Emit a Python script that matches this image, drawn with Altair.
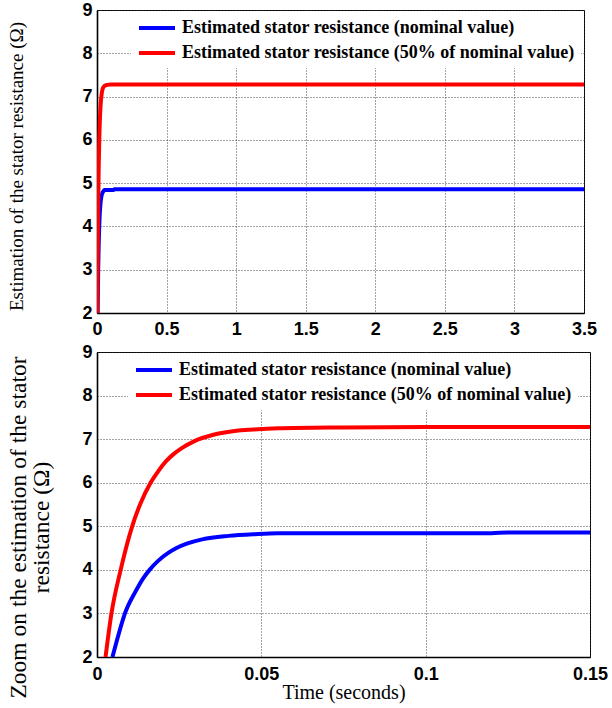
import altair as alt
import pandas as pd

S_NOM = "Estimated stator resistance (nominal value)"
S_50 = "Estimated stator resistance (50% of nominal value)"

# Estimated stator resistance, nominal value (blue)
t_blue = [0.0047, 0.0065, 0.0085, 0.0117, 0.014, 0.016, 0.0185, 0.0219, 0.0242, 0.0273, 0.032, 0.040, 0.048, 0.055, 0.12, 0.125, 3.5]
r_blue = [2.0, 2.5, 3.0, 3.5, 3.8, 4.0, 4.2, 4.4, 4.5, 4.6, 4.7, 4.78, 4.82, 4.84, 4.84, 4.86, 4.86]

# Estimated stator resistance, 50% of nominal value (red)
t_red = [0.0026, 0.0044, 0.0072, 0.0107, 0.0131, 0.0163, 0.0185, 0.0211, 0.0232, 0.0259, 0.0295, 0.0354, 0.043, 0.05, 0.055, 0.075, 0.1, 3.5]
r_red = [2.0, 3.0, 4.0, 5.0, 5.5, 6.0, 6.25, 6.5, 6.65, 6.8, 6.95, 7.1, 7.2, 7.23, 7.25, 7.27, 7.28, 7.28]

x_ticks_top = [0, 0.5, 1, 1.5, 2, 2.5, 3, 3.5]
x_ticks_bottom = [0, 0.05, 0.1, 0.15]
y_ticks = [2, 3, 4, 5, 6, 7, 8, 9]

df = pd.concat([
    pd.DataFrame({"t": t_blue, "r": r_blue, "series": S_NOM}),
    pd.DataFrame({"t": t_red, "r": r_red, "series": S_50}),
], ignore_index=True)

def legend(x, y):
    return alt.Legend(
        orient="none", legendX=x, legendY=y, title=None,
        symbolType="M-2,0H2", symbolStrokeWidth=4, symbolSize=324, symbolOffset=9,
        labelFont="Liberation Serif", labelFontWeight="bold", labelFontSize=18,
        labelColor="black", labelLimit=700, fillColor="white",
        padding=6, rowPadding=5, labelOffset=14,
    )

color_scale = alt.Scale(domain=[S_NOM, S_50], range=["#0000ff", "#ff0000"])

top = alt.Chart(df).mark_line(strokeWidth=4, clip=True, interpolate="monotone").encode(
    x=alt.X("t:Q", scale=alt.Scale(domain=[0, 3.5], nice=False),
            axis=alt.Axis(values=x_ticks_top, format=".1~f", title=None, grid=True, labelFlush=False, labelPadding=7)),
    y=alt.Y("r:Q", scale=alt.Scale(domain=[2, 9], nice=False),
            axis=alt.Axis(values=y_ticks, format="d", title="Estimation of the stator resistance (\u03a9)",
                          titleX=-81, titleY=156, titleBaseline="middle", titleFontSize=19, labelPadding=5)),
    color=alt.Color("series:N", scale=color_scale, sort=[S_NOM, S_50], legend=legend(34, 1)),
    detail="series:N",
).properties(width=487, height=303)

bottom = alt.Chart(df).mark_line(strokeWidth=4, clip=True, interpolate="monotone").encode(
    x=alt.X("t:Q", scale=alt.Scale(domain=[0, 0.15], nice=False),
            axis=alt.Axis(values=x_ticks_bottom, format=".2~f", title="Time (seconds)", labelFlush=False,
                          labelPadding=8, titleY=35, titleBaseline="middle", titleFontSize=20)),
    y=alt.Y("r:Q", scale=alt.Scale(domain=[2, 9], nice=False),
            axis=alt.Axis(values=y_ticks, format="d", title=["Zoom on the estimation of the stator", "resistance (\u03a9)"],
                          titleX=-79, titleY=175, titleBaseline="middle", titleFontSize=23.5,
                          titleLineHeight=23, labelPadding=5)),
    color=alt.Color("series:N", scale=color_scale, sort=[S_NOM, S_50], legend=legend(31, 1)),
    detail="series:N",
).properties(width=493, height=305)

chart = alt.vconcat(top, bottom, spacing=39, bounds="flush").resolve_scale(
    color="independent", x="independent"
).resolve_legend(color="independent").properties(
    padding={"left": 5, "top": 0, "right": 2, "bottom": 2},
    background="white",
).configure_view(
    stroke="black", strokeWidth=1
).configure_axis(
    labelFont="Liberation Sans", labelFontWeight="bold", labelFontSize=18, labelColor="black",
    grid=True, gridColor="#333333", gridDash=[1, 2], gridWidth=0.9,
    domainColor="black", domainWidth=1.6, ticks=False,
    titleFont="Liberation Serif", titleFontWeight="normal", titleColor="black",
)

chart.save("out.html", embed_options={"renderer": "svg", "actions": False})
